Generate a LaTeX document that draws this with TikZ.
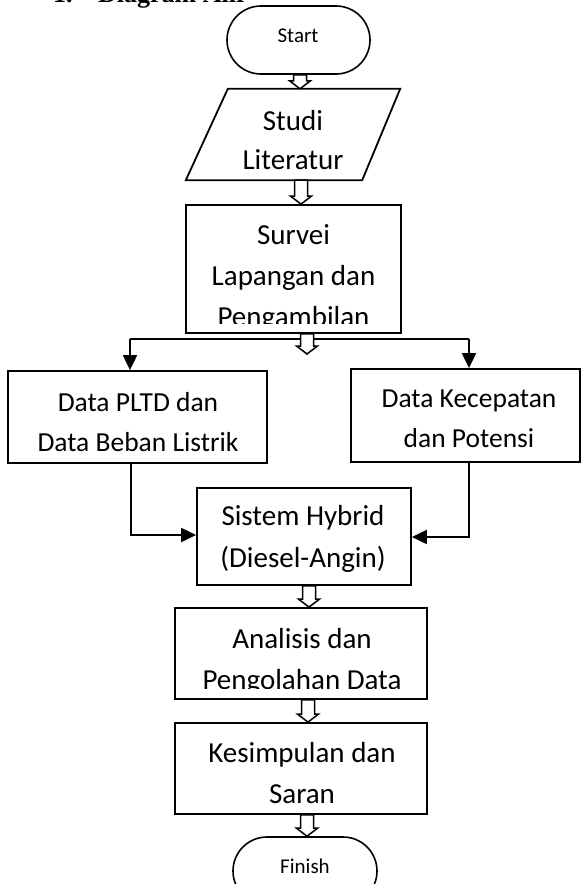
\documentclass[tikz,border=0pt]{standalone}
\usepackage{fontspec}
\newfontfamily\carl{Carlito}
\newfontfamily\hserif{Liberation Serif}
\usetikzlibrary{shapes.misc,arrows.meta,calc}
\tikzset{
  boxnode/.style={draw, line width=1.8pt, inner sep=0pt, rectangle},
  ghost/.style={inner sep=0pt, rectangle},
  termnode/.style={draw, line width=1.6pt, rounded rectangle, inner sep=0pt},
  bigtxt/.style={inner sep=0pt, anchor=base, font=\carl\fontsize{29}{41}\selectfont},
  datatxt/.style={inner sep=0pt, anchor=base, font=\carl\fontsize{27.5}{40}\selectfont},
  smalltxt/.style={inner sep=0pt, font=\carl\fontsize{21}{25}\selectfont},
  hollowarrow/.style={draw, line width=1.5pt, fill=white, line join=miter},
  plainline/.style={draw, line width=2pt},
  tipline/.style={draw, line width=2pt, line join=miter, -{Triangle[length=15pt,width=14pt]}},
}
\newcommand\harrow[2]{\draw[hollowarrow] let \p1=(#1), \p2=(#2) in
  (\x1-6.5pt,\y1) -- (\x1-6.5pt,\y2+8pt) -- (\x1-10.5pt,\y2+8pt) -- (\x1,\y2)
  -- (\x1+10.5pt,\y2+8pt) -- (\x1+6.5pt,\y2+8pt) -- (\x1+6.5pt,\y1) -- cycle;}
\begin{document}
\begin{tikzpicture}[x=1pt,y=-1pt]
\useasboundingbox[fill=white] (0,0) rectangle (581,884);

% heading (cut off at the top, as in the reference)
\node[anchor=base west, inner sep=0pt, font=\hserif\bfseries\fontsize{26}{30}\selectfont] (heading) at (53,2) {\makebox[45pt][l]{1.}Diagram Alir};

% Start
\node[termnode, minimum width=143pt, minimum height=68pt] (start) at (298.5,40) {};
\node[smalltxt] (startt) at (298,36) {Start};

% Studi Literatur (parallelogram)
\node[ghost, minimum width=214pt, minimum height=91pt] (studi) at (293,134.5) {};
\draw[line width=1.8pt, line join=miter] ($(studi.north west)+(42,0)$) -- (studi.north east)
  -- ($(studi.south east)+(-38,0)$) -- (studi.south west) -- cycle;
\node[bigtxt, font=\carl\fontsize{29}{39}\selectfont] (studit) at (293,130)
  {\begin{tabular}[t]{@{}c@{}}Studi\\Literatur\end{tabular}};

% Survei
\node[boxnode, minimum width=215pt, minimum height=128pt] (survei) at (293.5,269) {};
\begin{scope}
  \clip (186,205) rectangle (401,323);
  \node[bigtxt] (surveit) at (293.5,244)
    {\begin{tabular}[t]{@{}c@{}}Survei\\Lapangan dan\\Pengambilan\end{tabular}};
\end{scope}

% Data boxes
\node[boxnode, minimum width=259pt, minimum height=92pt] (leftbox) at (137.5,417) {};
\node[datatxt] (leftt) at (138,411)
  {\begin{tabular}[t]{@{}c@{}}Data PLTD dan\\Data Beban Listrik\end{tabular}};
\node[boxnode, minimum width=229pt, minimum height=93pt] (rightbox) at (465.5,415.5) {};
\node[datatxt] (rightt) at (469,407)
  {\begin{tabular}[t]{@{}c@{}}Data Kecepatan\\dan Potensi\end{tabular}};

% Hybrid
\node[boxnode, minimum width=214pt, minimum height=97pt] (hybrid) at (304,536.5) {};
\node[bigtxt, font=\carl\fontsize{29}{42}\selectfont] (hybridt) at (303,525)
  {\begin{tabular}[t]{@{}c@{}}Sistem Hybrid\\(Diesel-Angin)\end{tabular}};

% Analisis
\node[boxnode, minimum width=252pt, minimum height=91pt] (analisis) at (301,653.5) {};
\begin{scope}
  \clip (175,608) rectangle (427,688);
  \node[bigtxt] (analisist) at (302,648)
    {\begin{tabular}[t]{@{}c@{}}Analisis dan\\Pengolahan Data\end{tabular}};
\end{scope}

% Kesimpulan
\node[boxnode, minimum width=252pt, minimum height=91pt] (kesimpulan) at (301,768.5) {};
\node[bigtxt] (kesimpulant) at (302,762)
  {\begin{tabular}[t]{@{}c@{}}Kesimpulan dan\\Saran\end{tabular}};

% Finish
\node[termnode, minimum width=144pt, minimum height=68pt] (finish) at (305,871) {};
\node[smalltxt] (finisht) at (305,866) {Finish};

% split connectors
\coordinate (sl) at (130,339);
\coordinate (sr) at (469,339);
\draw[plainline] (sl) -- (sr);
\draw[tipline] (sl) -- (leftbox.north -| sl);
\draw[tipline] (sr) -- (rightbox.north -| sr);

% merge connectors
\coordinate (lc) at (131,535);
\coordinate (rc) at (469,537);
\draw[tipline] (leftbox.south -| lc) -- (lc) -- (hybrid.west |- lc);
\draw[tipline] (rightbox.south -| rc) -- (rc) -- (hybrid.east |- rc);

% hollow arrows
\coordinate (a1) at (300,0);
\coordinate (a2) at (301,0);
\coordinate (a3) at (307,0);
\coordinate (a4) at (309,0);
\coordinate (a5) at (308,0);
\coordinate (a6) at (307,0);
\coordinate (a3e) at (307,354);
\harrow{start.south -| a1}{studi.north -| a1}
\harrow{studi.south -| a2}{survei.north -| a2}
\harrow{survei.south -| a3}{a3e}
\harrow{hybrid.south -| a4}{analisis.north -| a4}
\harrow{analisis.south -| a5}{kesimpulan.north -| a5}
\harrow{kesimpulan.south -| a6}{finish.north -| a6}
\end{tikzpicture}
\end{document}
